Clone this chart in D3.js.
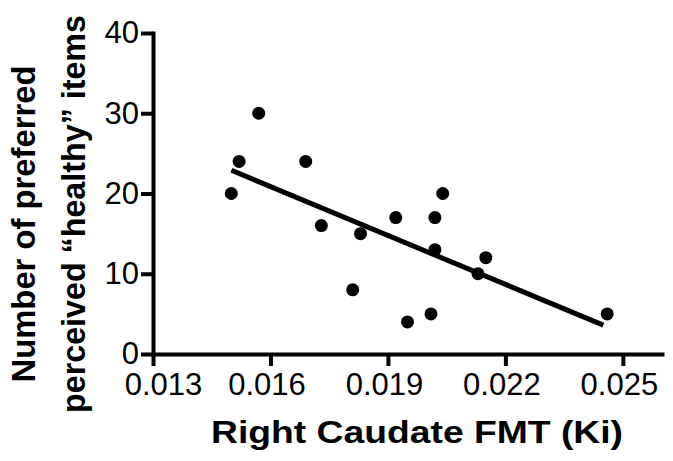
<!DOCTYPE html>
<html lang="en">
  <head>
    <meta charset="UTF-8" />
    <title>Right Caudate FMT scatter</title>
    <script src="https://d3js.org/d3.v7.min.js"></script>
    <style>
      body {
        margin: 0;
        padding: 0;
        background: #fff;
      }
      svg {
        display: block;
        font-family: "Liberation Sans", Arial, sans-serif;
      }
      .tick text {
        font-size: 31px;
        fill: #000;
      }
      .title {
        font-weight: bold;
        fill: #000;
      }
    </style>
  </head>
  <body>
    <svg width="673" height="461"></svg>
    <script>
      // data
      const fmtKi = [0.0150, 0.0152, 0.0157, 0.0169, 0.0173, 0.0181, 0.0183, 0.0192,
                     0.0195, 0.0201, 0.0202, 0.0202, 0.0204, 0.0213, 0.0215, 0.0246];
      const healthyItems = [20, 24, 30, 24, 16, 8, 15, 17,
                            4, 5, 17, 13, 20, 10, 12, 5];
      // regression line ends
      const fitX = [0.0150, 0.0245];
      const fitY = [22.9, 3.6];
      const xTicks = [0.013, 0.016, 0.019, 0.022, 0.025];
      const yTicks = [0, 10, 20, 30, 40];

      const svg = d3.select("svg");
      svg.append("rect").attr("width", 673).attr("height", 461).attr("fill", "#fff");

      const x = d3.scaleLinear().domain([0.013, 0.026]).range([153, 662]);
      const y = d3.scaleLinear().domain([0, 40]).range([354, 33]);

      // axes
      const xAxis = svg
        .append("g")
        .attr("transform", `translate(0,${y(0)})`)
        .call(
          d3.axisBottom(x)
            .tickValues(xTicks)
            .tickFormat(d3.format(".3f"))
            .tickSize(12)
            .tickSizeOuter(0)
            .tickPadding(7)
        );
      // first label sits a bit right of its tick, the rest a bit left
      xAxis.selectAll(".tick text").attr("dx", (d, i) => (i === 0 ? 10 : -4));

      const yAxis = svg
        .append("g")
        .attr("transform", `translate(${x(0.013)},0)`)
        .call(
          d3.axisLeft(y)
            .tickValues(yTicks)
            .tickSize(12)
            .tickSizeOuter(0)
            .tickPadding(2)
        );

      [xAxis, yAxis].forEach((g) => {
        g.select(".domain").attr("stroke", "#000").attr("stroke-width", 4).attr("stroke-linecap", "square");
        g.selectAll(".tick line").attr("stroke", "#000").attr("stroke-width", 4);
      });

      // regression line
      svg
        .append("line")
        .attr("x1", x(fitX[0]))
        .attr("y1", y(fitY[0]))
        .attr("x2", x(fitX[1]))
        .attr("y2", y(fitY[1]))
        .attr("stroke", "#000")
        .attr("stroke-width", 5);

      // points
      svg
        .selectAll(".dot")
        .data(fmtKi.map((v, i) => [v, healthyItems[i]]))
        .enter()
        .append("circle")
        .attr("class", "dot")
        .attr("cx", (d) => x(d[0]))
        .attr("cy", (d) => y(d[1]))
        .attr("r", 6.5)
        .attr("fill", "#000");

      // titles
      svg
        .append("text")
        .attr("class", "title")
        .attr("x", 417)
        .attr("y", 443)
        .attr("text-anchor", "middle")
        .attr("font-size", 31)
        .attr("textLength", 412)
        .attr("lengthAdjust", "spacingAndGlyphs")
        .text("Right Caudate FMT (Ki)");

      const yTitle = ["Number of preferred", "perceived \u201chealthy\u201d items"];
      const yTitleLen = [317, 398];
      const yTitleMid = [224, 214];
      yTitle.forEach((t, i) => {
        svg
          .append("text")
          .attr("class", "title")
          .attr("transform", `translate(${35 + i * 50},${yTitleMid[i]}) rotate(-90)`)
          .attr("text-anchor", "middle")
          .attr("font-size", 33)
          .attr("textLength", yTitleLen[i])
          .attr("lengthAdjust", "spacingAndGlyphs")
          .text(t);
      });
    </script>
  </body>
</html>
